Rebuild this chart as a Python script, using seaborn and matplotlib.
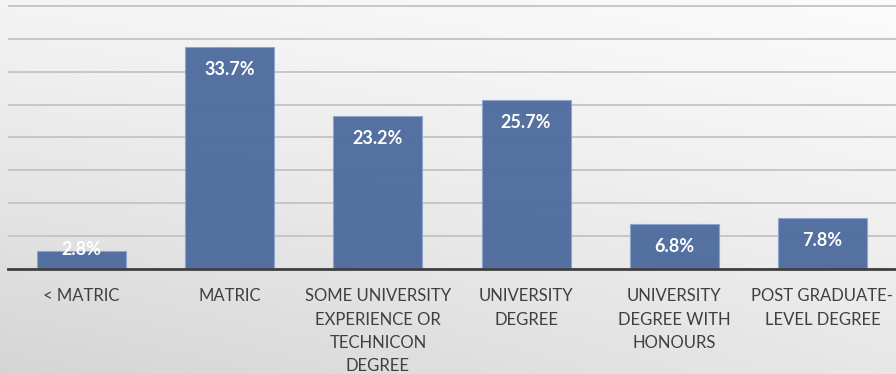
import numpy as np
import pandas as pd
import matplotlib
matplotlib.use("Agg")
import matplotlib.pyplot as plt
import seaborn as sns

categories = [
    "< MATRIC",
    "MATRIC",
    "SOME UNIVERSITY\nEXPERIENCE OR\nTECHNICON\nDEGREE",
    "UNIVERSITY\nDEGREE",
    "UNIVERSITY\nDEGREE WITH\nHONOURS",
    "POST GRADUATE-\nLEVEL DEGREE",
]
shares = [2.8, 33.7, 23.2, 25.7, 6.8, 7.8]
labels = ["2.8%", "33.7%", "23.2%", "25.7%", "6.8%", "7.8%"]

sns.set_theme(style="white")
plt.rcParams["font.family"] = ["Lato", "DejaVu Sans"]

df = pd.DataFrame({"category": categories, "share": shares})

fig = plt.figure(figsize=(8.96, 3.74), dpi=100)

# soft grey gradient behind everything
bg = fig.add_axes([0, 0, 1, 1], zorder=-10)
yy, xx = np.mgrid[0:1:200j, 0:1:400j]
shade = 0.985 - 0.12 * (yy ** 1.1) * (1 - 0.35 * xx) - 0.03 * (1 - xx)
bg.imshow(np.dstack([shade, shade, shade]), aspect="auto", extent=[0, 1, 0, 1],
          origin="upper", vmin=0, vmax=1)
bg.set_axis_off()

ax = fig.add_axes([7.5 / 896, 1 - 269 / 374, 889 / 896, 269 / 374])
ax.patch.set_alpha(0)

sns.barplot(data=df, x="category", y="share", ax=ax, width=0.6,
            color="#3e66ab", edgecolor="#8ea4cf", linewidth=0.8, alpha=0.95,
            zorder=2)

ax.set_ylim(0, 40.9)
ax.set_yticks(np.arange(0, 41, 5))
ax.yaxis.grid(True, color="#c6c6c6", linewidth=1.4, zorder=0)
ax.set_axisbelow(True)
ax.tick_params(axis="y", left=False, labelleft=False)
ax.tick_params(axis="x", bottom=False, pad=8, labelsize=12,
               labelcolor="#404040")
for lbl in ax.get_xticklabels():
    lbl.set_linespacing(1.55)
    lbl.set_verticalalignment("top")
ax.set_xlabel("")
ax.set_ylabel("")
for side in ["top", "right", "left"]:
    ax.spines[side].set_visible(False)
ax.spines["bottom"].set_color("#404040")
ax.spines["bottom"].set_linewidth(2)
ax.spines["bottom"].set_zorder(3)

for i, (v, t) in enumerate(zip(shares, labels)):
    y = max(v - 3.4, 3.0)
    ax.text(i, y, t, ha="center", va="center", color="white",
            fontsize=13, fontweight="bold", zorder=4)

fig.savefig("out.png", dpi=100)
